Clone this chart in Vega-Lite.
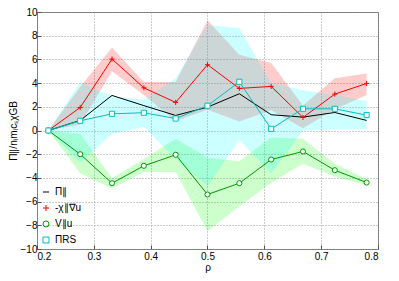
{
  "$schema": "https://vega.github.io/schema/vega-lite/v6.json",
  "width": 341,
  "height": 237,
  "autosize": {"type": "none"},
  "padding": {"left": 37, "top": 12, "right": 21, "bottom": 32},
  "background": "white",
  "config": {
    "font": "Liberation Sans",
    "view": {"stroke": "#777", "strokeWidth": 1},
    "axis": {
      "grid": true, "gridDash": [1, 2], "gridColor": "#999", "gridOpacity": 1,
      "domain": false, "tickColor": "#555", "tickSize": -4,
      "labelFontSize": 10, "labelColor": "#000", "titleFontSize": 10,
      "titleFontWeight": "normal", "titleColor": "#000", "labelPadding": 6,
      "labelOverlap": false
    }
  },
  "data": {
    "values": [
      {"rho": 0.22, "series": "Π∥", "v": 0},
      {"rho": 0.276, "series": "Π∥", "v": 0.85},
      {"rho": 0.332, "series": "Π∥", "v": 2.96},
      {"rho": 0.388, "series": "Π∥", "v": 2.1},
      {"rho": 0.444, "series": "Π∥", "v": 1.27},
      {"rho": 0.5, "series": "Π∥", "v": 1.97},
      {"rho": 0.556, "series": "Π∥", "v": 3.1},
      {"rho": 0.612, "series": "Π∥", "v": 1.33},
      {"rho": 0.668, "series": "Π∥", "v": 1.13},
      {"rho": 0.724, "series": "Π∥", "v": 1.52},
      {"rho": 0.78, "series": "Π∥", "v": 0.85},

      {"rho": 0.22, "series": "-χ∥∇u", "v": 0, "lo": 0, "hi": 0},
      {"rho": 0.276, "series": "-χ∥∇u", "v": 1.94, "lo": 0.5, "hi": 3.7},
      {"rho": 0.332, "series": "-χ∥∇u", "v": 6.03, "lo": 5.0, "hi": 7.0},
      {"rho": 0.388, "series": "-χ∥∇u", "v": 3.6, "lo": 3.0, "hi": 4.1},
      {"rho": 0.444, "series": "-χ∥∇u", "v": 2.37, "lo": 0.8, "hi": 4.1},
      {"rho": 0.5, "series": "-χ∥∇u", "v": 5.55, "lo": 1.75, "hi": 9.3},
      {"rho": 0.556, "series": "-χ∥∇u", "v": 3.55, "lo": 0.76, "hi": 6.4},
      {"rho": 0.612, "series": "-χ∥∇u", "v": 3.72, "lo": 1.7, "hi": 5.7},
      {"rho": 0.668, "series": "-χ∥∇u", "v": 1.1, "lo": 0.2, "hi": 2.1},
      {"rho": 0.724, "series": "-χ∥∇u", "v": 3.07, "lo": 1.8, "hi": 4.4},
      {"rho": 0.78, "series": "-χ∥∇u", "v": 3.97, "lo": 3.0, "hi": 4.8},

      {"rho": 0.22, "series": "V∥u", "v": 0, "lo": 0, "hi": 0},
      {"rho": 0.276, "series": "V∥u", "v": -2.0, "lo": -3.6, "hi": -0.3},
      {"rho": 0.332, "series": "V∥u", "v": -4.45, "lo": -4.9, "hi": -4.0},
      {"rho": 0.388, "series": "V∥u", "v": -2.98, "lo": -3.5, "hi": -2.4},
      {"rho": 0.444, "series": "V∥u", "v": -2.05, "lo": -3.5, "hi": -0.7},
      {"rho": 0.5, "series": "V∥u", "v": -5.4, "lo": -8.5, "hi": -2.3},
      {"rho": 0.556, "series": "V∥u", "v": -4.45, "lo": -6.4, "hi": -2.6},
      {"rho": 0.612, "series": "V∥u", "v": -2.45, "lo": -4.4, "hi": -0.6},
      {"rho": 0.668, "series": "V∥u", "v": -1.77, "lo": -2.8, "hi": -0.7},
      {"rho": 0.724, "series": "V∥u", "v": -3.35, "lo": -3.9, "hi": -2.8},
      {"rho": 0.78, "series": "V∥u", "v": -4.39, "lo": -4.6, "hi": -4.1},

      {"rho": 0.22, "series": "ΠRS", "v": 0, "lo": 0, "hi": 0},
      {"rho": 0.276, "series": "ΠRS", "v": 0.82, "lo": -2.7, "hi": 4.1},
      {"rho": 0.332, "series": "ΠRS", "v": 1.41, "lo": -0.3, "hi": 2.9},
      {"rho": 0.388, "series": "ΠRS", "v": 1.5, "lo": 0.3, "hi": 2.6},
      {"rho": 0.444, "series": "ΠRS", "v": 1.01, "lo": -2.4, "hi": 4.4},
      {"rho": 0.5, "series": "ΠRS", "v": 2.09, "lo": -4.7, "hi": 8.9},
      {"rho": 0.556, "series": "ΠRS", "v": 4.11, "lo": -0.8, "hi": 8.65},
      {"rho": 0.612, "series": "ΠRS", "v": 0.14, "lo": -3.6, "hi": 4.0},
      {"rho": 0.668, "series": "ΠRS", "v": 1.83, "lo": 0.0, "hi": 3.4},
      {"rho": 0.724, "series": "ΠRS", "v": 1.83, "lo": 0.1, "hi": 3.0},
      {"rho": 0.78, "series": "ΠRS", "v": 1.3, "lo": 0.1, "hi": 2.5}
    ]
  },
  "encoding": {
    "x": {
      "field": "rho", "type": "quantitative",
      "scale": {"domain": [0.2, 0.8], "nice": false, "zero": false},
      "axis": {"values": [0.2, 0.3, 0.4, 0.5, 0.6, 0.7, 0.8], "format": ".1f", "title": "ρ", "titlePadding": 1}
    },
    "y": {
      "field": "v", "type": "quantitative",
      "scale": {"domain": [-10, 10], "nice": false},
      "axis": {"values": [-10, -8, -6, -4, -2, 0, 2, 4, 6, 8, 10], "title": "Π∥/nᵢmᵢcₛχGB", "titlePadding": 2, "labelPadding": 4}
    }
  },
  "layer": [
    {
      "transform": [{"filter": "datum.series == '-χ∥∇u'"}],
      "mark": {"type": "area", "color": "#ff0000", "opacity": 0.2},
      "encoding": {
        "y": {"field": "lo", "type": "quantitative", "scale": {"domain": [-10, 10], "nice": false},
              "axis": {"values": [-10, -8, -6, -4, -2, 0, 2, 4, 6, 8, 10], "title": "Π∥/nᵢmᵢcₛχGB", "titlePadding": 2, "labelPadding": 4}},
        "y2": {"field": "hi"}
      }
    },
    {
      "transform": [{"filter": "datum.series == 'V∥u'"}],
      "mark": {"type": "area", "color": "#00ff00", "opacity": 0.2},
      "encoding": {
        "y": {"field": "lo", "type": "quantitative", "scale": {"domain": [-10, 10], "nice": false},
              "axis": {"values": [-10, -8, -6, -4, -2, 0, 2, 4, 6, 8, 10], "title": "Π∥/nᵢmᵢcₛχGB", "titlePadding": 2, "labelPadding": 4}},
        "y2": {"field": "hi"}
      }
    },
    {
      "transform": [{"filter": "datum.series == 'ΠRS'"}],
      "mark": {"type": "area", "color": "#00ffff", "opacity": 0.2},
      "encoding": {
        "y": {"field": "lo", "type": "quantitative", "scale": {"domain": [-10, 10], "nice": false},
              "axis": {"values": [-10, -8, -6, -4, -2, 0, 2, 4, 6, 8, 10], "title": "Π∥/nᵢmᵢcₛχGB", "titlePadding": 2, "labelPadding": 4}},
        "y2": {"field": "hi"}
      }
    },
    {
      "mark": {"type": "line", "strokeWidth": 1},
      "encoding": {
        "color": {
          "field": "series", "type": "nominal",
          "scale": {"domain": ["Π∥", "-χ∥∇u", "V∥u", "ΠRS"], "range": ["#000000", "#ff0000", "#009900", "#00c0c0"]},
          "legend": {
            "orient": "none", "legendX": 4, "legendY": 175, "title": null,
            "labelFontSize": 10, "labelColor": "#000", "symbolSize": 36, "rowPadding": 6,
            "symbolStrokeWidth": 1, "symbolType": "stroke", "labelOffset": 4
          }
        }
      }
    },
    {
      "transform": [{"filter": "datum.series != 'Π∥'"}],
      "mark": {"type": "point", "filled": true, "fill": "white", "fillOpacity": 1, "size": 26, "strokeWidth": 1, "opacity": 1},
      "encoding": {
        "stroke": {
          "field": "series", "type": "nominal",
          "scale": {"domain": ["Π∥", "-χ∥∇u", "V∥u", "ΠRS"], "range": ["#000000", "#ff0000", "#009900", "#00c0c0"]},
          "legend": null
        },
        "shape": {
          "field": "series", "type": "nominal",
          "scale": {"domain": ["Π∥", "-χ∥∇u", "V∥u", "ΠRS"], "range": ["stroke", "M-1,0H1M0,-1V1", "circle", "square"]},
          "legend": null
        }
      }
    }
  ]
}
